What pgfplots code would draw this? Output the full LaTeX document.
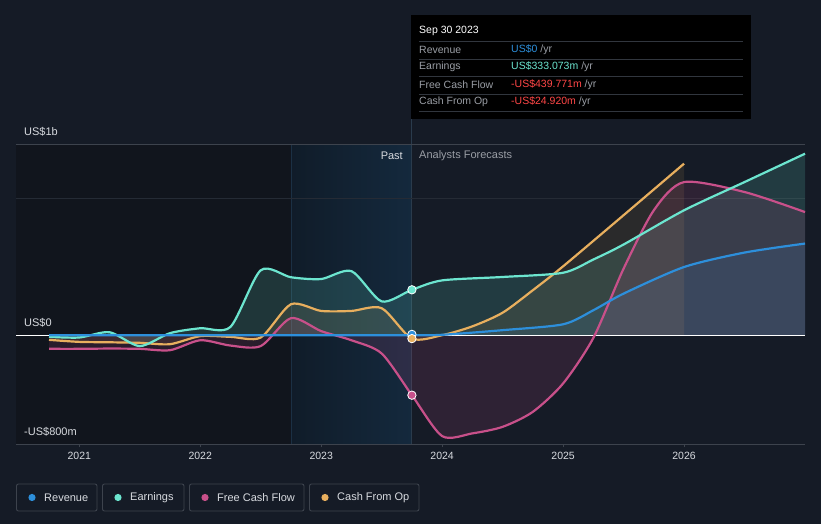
\documentclass[border=0pt]{standalone}
\usepackage{pgfplots}
\pgfplotsset{compat=1.18}
\usepackage{pgfplotstable}
\usepackage{fontspec}
\setmainfont{Liberation Sans}

\definecolor{bg}{HTML}{151B26}
\definecolor{pastbg}{HTML}{11151D}
\definecolor{hlL}{HTML}{101C29}
\definecolor{hlR}{HTML}{14293D}
\definecolor{rev}{HTML}{2D8FDB}
\definecolor{earn}{HTML}{6CE5CF}
\definecolor{fcf}{HTML}{C8508A}
\definecolor{cfo}{HTML}{E8AF5E}
\definecolor{gridc}{HTML}{3D434D}
\definecolor{grid2}{HTML}{252B35}
\definecolor{txt}{HTML}{D8DBE0}
\definecolor{dimtxt}{HTML}{9A9EA5}
\definecolor{neg}{HTML}{FF4747}
\definecolor{vline}{HTML}{2A3B4C}
\definecolor{vline2}{HTML}{1B3044}

\pgfplotstableread{
x y
2020.75 -12
2021.0 -17
2021.25 22
2021.5 -80
2021.75 15
2022.0 51
2022.25 61
2022.5 476
2022.75 425
2023.0 412
2023.25 470
2023.5 248
2023.75 333
2024.0 402
2024.5 427
2025.0 458
2025.25 555
2025.5 665
2026.0 916
2026.5 1123
2027.0 1331
}\earn

\pgfplotstableread{
x y
2020.75 0
2021.75 0
2022.75 0
2023.75 0
2024.0 3
2024.5 37
2025.0 80
2025.25 183
2025.5 305
2026.0 500
2026.5 606
2027.0 672
}\rev

\pgfplotstableread{
x y
2020.75 -34
2021.0 -49
2021.25 -52
2021.5 -56
2021.75 -66
2022.0 -7
2022.25 -12
2022.5 -17
2022.75 227
2023.0 178
2023.25 178
2023.5 198
2023.75 -25
2024.0 0
2024.25 65
2024.5 165
2024.75 330
2025.0 505
2025.5 880
2026.0 1258
}\cfo

\pgfplotstableread{
x y
2020.75 -100
2021.0 -100
2021.25 -98
2021.5 -100
2021.75 -110
2022.0 -37
2022.25 -76
2022.5 -80
2022.75 125
2023.0 30
2023.25 -37
2023.5 -134
2023.75 -440
2024.0 -740
2024.25 -720
2024.5 -672
2024.75 -562
2025.0 -354
2025.25 -20
2025.5 488
2025.75 916
2026.0 1123
2026.5 1050
2027.0 903
}\fcf

\begin{document}
\begin{tikzpicture}
\begin{scope}[x=1bp,y=1bp]
\fill[bg] (0,0) rectangle (821,524);
\draw[vline, line width=1bp] (411,80) -- (411,509);
\end{scope}
\begin{axis}[
  at={(16bp,79.7bp)}, anchor=south west,
  width=789bp, height=300bp, scale only axis,
  xmin=2020.477, xmax=2027, ymin=-800, ymax=1400,
  axis y line=none, axis x line*=bottom,
  x axis line style={draw=none},
  xtick={2021,2022,2023,2024,2025,2026},
  xticklabels={2021,2022,2023,2024,2025,2026},
  xtick style={gridc, line width=0.8bp},
  tick align=outside, major tick length=3bp,
  xticklabel style={text=txt, font=\fontsize{10.5bp}{12bp}\selectfont, yshift=-1bp},
  /pgf/number format/assume math mode=true,
  ytick=\empty,
  clip=false,
]
% backgrounds
\fill[pastbg] (axis cs:2020.477,-800) rectangle (axis cs:2022.75,1400);
\shade[left color=hlL, right color=hlR] (axis cs:2022.75,-800) rectangle (axis cs:2023.75,1400);
\draw[vline2, line width=0.8bp] (axis cs:2022.75,-800) -- (axis cs:2022.75,1400);
\draw[vline, line width=1bp] (axis cs:2023.75,-800) -- (axis cs:2023.75,1400);
% grid lines
\draw[gridc, line width=1bp] (axis cs:2020.477,1400) -- (axis cs:2027,1400);
\draw[grid2, line width=1.2bp] (axis cs:2020.477,1000) -- (axis cs:2027,1000);
\draw[gridc, line width=1bp] (axis cs:2020.477,-800) -- (axis cs:2027,-800);
% fills
\addplot[draw=none, fill=earn, fill opacity=0.16, smooth, tension=0.45] table {\earn} \closedcycle;
\addplot[draw=none, fill=rev, fill opacity=0.14, smooth, tension=0.45] table {\rev} \closedcycle;
\addplot[draw=none, fill=cfo, fill opacity=0.10, smooth, tension=0.45] table {\cfo} \closedcycle;
\addplot[draw=none, fill=fcf, fill opacity=0.14, smooth, tension=0.45] table {\fcf} \closedcycle;
% zero line
\draw[white, line width=1.2bp] (axis cs:2020.477,0) -- (axis cs:2027,0);
% lines
\addplot[fcf, line width=2.2bp, smooth, tension=0.45] table {\fcf};
\addplot[cfo, line width=2.2bp, smooth, tension=0.45] table {\cfo};
\addplot[earn, line width=2.2bp, smooth, tension=0.45] table {\earn};
\addplot[rev, line width=2.2bp, smooth, tension=0.45] table {\rev};
% markers at Sep 30 2023
\addplot[only marks, mark=*, mark size=4.2bp, mark options={fill=earn, draw=white, line width=0.8bp}] coordinates {(2023.75,333)};
\addplot[only marks, mark=*, mark size=4.2bp, mark options={fill=rev, draw=white, line width=0.8bp}] coordinates {(2023.75,6)};
\addplot[only marks, mark=*, mark size=4.2bp, mark options={fill=cfo, draw=white, line width=0.8bp}] coordinates {(2023.75,-25)};
\addplot[only marks, mark=*, mark size=4.2bp, mark options={fill=fcf, draw=white, line width=0.8bp}] coordinates {(2023.75,-440)};
\end{axis}

\begin{scope}[x=1bp,y=1bp]
% y labels
\begin{scope}[every node/.style={font=\fontsize{11bp}{13bp}\selectfont, inner sep=0pt}]
\node[anchor=west, text=txt] at (24,392) {US\$1b};
\node[anchor=west, text=txt] at (24,201) {US\$0};
\node[anchor=west, text=txt] at (24,92) {-US\$800m};
\node[anchor=east, text=txt] at (403,368) {Past};
\node[anchor=west, text=dimtxt] at (419,368) {Analysts Forecasts};
\end{scope}

% tooltip
\fill[black] (411,405) rectangle (751,509);
\begin{scope}[every node/.style={font=\fontsize{10.5bp}{12bp}\selectfont, inner sep=0pt, anchor=west}]
\node[text=white] at (419,493) {Sep 30 2023};
\foreach \yy in {482.3,465,447.3,430,413} {\draw[gridc!80!black, line width=0.8bp] (419,\yy) -- (743,\yy);}
\node[text=dimtxt] at (419,474) {Revenue};
\node[text=dimtxt] at (419,457) {Earnings};
\node[text=dimtxt] at (419,439) {Free Cash Flow};
\node[text=dimtxt] at (419,422) {Cash From Op};
\node at (511,474) {\textcolor{rev}{US\$0} \textcolor{dimtxt}{/yr}};
\node at (511,457) {\textcolor{earn}{US\$333.073m} \textcolor{dimtxt}{/yr}};
\node at (511,439) {\textcolor{neg}{-US\$439.771m} \textcolor{dimtxt}{/yr}};
\node at (511,422) {\textcolor{neg}{-US\$24.920m} \textcolor{dimtxt}{/yr}};
\end{scope}

% legend
\begin{scope}[every node/.style={font=\fontsize{11bp}{13bp}\selectfont, inner sep=0pt, anchor=west, text=txt}]
\draw[gridc, line width=0.9bp, rounded corners=2bp] (16.5,13) rectangle (97,40);
\draw[gridc, line width=0.9bp, rounded corners=2bp] (102.5,13) rectangle (184,40);
\draw[gridc, line width=0.9bp, rounded corners=2bp] (189.5,13) rectangle (304,40);
\draw[gridc, line width=0.9bp, rounded corners=2bp] (309.5,13) rectangle (419,40);
\fill[rev] (32,26.5) circle (3.6);
\fill[earn] (118,26.5) circle (3.6);
\fill[fcf] (205,26.5) circle (3.6);
\fill[cfo] (325,26.5) circle (3.6);
\node at (44,26.5) {Revenue};
\node at (130,26.5) {Earnings};
\node at (217,26.5) {Free Cash Flow};
\node at (337,26.5) {Cash From Op};
\end{scope}
\end{scope}
\end{tikzpicture}
\end{document}
